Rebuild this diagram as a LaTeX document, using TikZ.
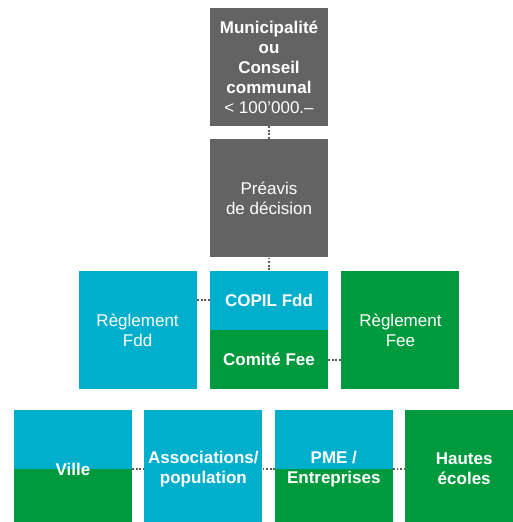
\documentclass[tikz,border=0pt]{standalone}
\usepackage{fontspec}
\setmainfont{Liberation Sans}
\usetikzlibrary{positioning}
\definecolor{gris}{RGB}{99,99,99}
\definecolor{bleu}{RGB}{0,175,204}
\definecolor{vert}{RGB}{0,154,62}
\definecolor{pointille}{RGB}{90,90,90}
\tikzset{
  carre/.style = {minimum width=118pt, minimum height=118pt, inner sep=0pt,
    text=white, align=center, font=\fontsize{17}{20}\selectfont},
  demi/.style = {carre, minimum height=59pt},
  gras/.style = {font=\fontsize{17}{20}\selectfont\bfseries},
  mixte/.style = {carre, fill=bleu,
    path picture={\fill[vert] (path picture bounding box.west)
      rectangle (path picture bounding box.south east);}},
  lien/.style = {draw=pointille, line width=2pt, dash pattern=on 1.8pt off 1.8pt}
}
\begin{document}
\begin{tikzpicture}[x=1pt, y=-1pt, node distance=13pt]
  \useasboundingbox (0,0) rectangle (512,522);
  \node[carre, fill=gris] (conseil) at (269,67)
    {\textbf{Municipalité}\\\textbf{ou}\\\textbf{Conseil}\\\textbf{communal}\\< 100’000.–};
  \node[carre, fill=gris, below=of conseil] (preavis) {Préavis\\de décision};
  \node[demi, gras, fill=bleu, below=of preavis] (copil) {COPIL Fdd};
  \node[demi, gras, fill=vert, below=0pt of copil] (comite) {Comité Fee};
  \node[carre, fill=bleu, left=of copil.south west] (reglfdd) {Règlement\\Fdd};
  \node[carre, fill=vert, right=of comite.north east] (reglfee) {Règlement\\Fee};
  \node[mixte, gras] (ville) at (73,469) {Ville};
  \node[carre, gras, fill=bleu, right=12pt of ville] (assoc) {Associations/\\population};
  \node[mixte, gras, right=12pt of assoc] (pme) {PME /\\Entreprises};
  \node[carre, gras, fill=vert, right=12pt of pme] (hautes) {Hautes\\écoles};
  \draw[lien] (conseil) -- (preavis);
  \draw[lien] (preavis) -- (copil);
  \draw[lien] (copil.west) -- (copil.west -| reglfdd.east);
  \draw[lien] (comite.east) -- (comite.east -| reglfee.west);
  \draw[lien] (ville) -- (assoc);
  \draw[lien] (assoc) -- (pme);
  \draw[lien] (pme) -- (hautes);
\end{tikzpicture}
\end{document}
